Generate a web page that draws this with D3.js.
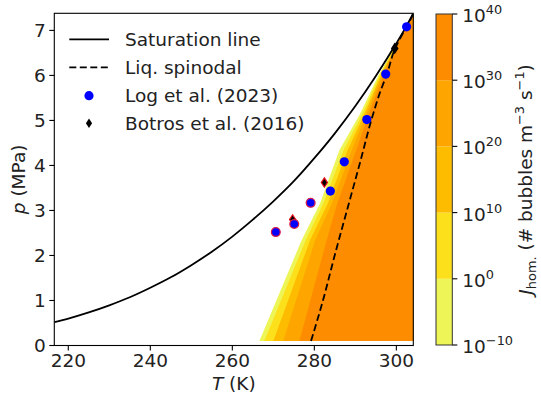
<!DOCTYPE html>
<html>
<head>
<meta charset="utf-8">
<script src="https://cdn.jsdelivr.net/npm/d3@7"></script>
<style>
  html, body { margin: 0; padding: 0; background: #fff; }
  svg { display: block; font-family: "DejaVu Sans", sans-serif; }
</style>
</head>
<body>
<svg id="chart" width="541" height="402"></svg>
<script>
// ---------------- data ----------------
const satT = [216.59, 220, 225, 230, 235, 240, 245, 250, 255, 260, 265, 270, 275, 280, 285, 290, 295, 300, 302, 304.13];
const satP = [0.518, 0.599, 0.736, 0.893, 1.072, 1.283, 1.515, 1.785, 2.083, 2.419, 2.795, 3.203, 3.650, 4.161, 4.713, 5.320, 5.986, 6.713, 7.022, 7.377];

const spinT = [279.2, 282.1, 285.1, 288.1, 291.1, 294.1, 296.0, 297.7, 299.7, 301.5, 303.0, 304.13];
const spinP = [0.1, 1.0, 2.05, 3.05, 4.05, 5.07, 5.62, 6.03, 6.60, 6.92, 7.16, 7.377];

const logT = [270.6, 275.1, 279.1, 283.9, 287.3, 292.8, 297.4, 302.5];
const logP = [2.52, 2.70, 3.17, 3.43, 4.08, 5.02, 6.03, 7.08];
const logHighlighted = [true, true, true, false, false, false, false, false];

const botT = [274.7, 282.45, 299.6];
const botP = [2.80, 3.62, 6.60];
const botHighlighted = [true, true, false];

// contour levels of log10 J and the boundary of each level (T at given pressures)
const levels = [-10, 0, 10, 20, 30, 40];
const boundP = [0.1, 2.34, 3.16, 4.34, 5.12, 6.0, 6.6, 7.377];
const boundT = [
  [266.6, 276.9, 281.4, 286.1, 291.0, 295.6, 299.35, 304.13],  // 1e-10
  [267.8, 277.9, 282.2, 287.1, 291.6, 295.9, 299.45, 304.13],  // 1e0
  [270.0, 278.95, 283.3, 288.1, 292.1, 296.2, 299.5, 304.13],  // 1e10
  [272.4, 280.2, 284.3, 289.1, 292.6, 296.5, 299.55, 304.13],  // 1e20
  [276.35, 283.0, 285.6, 290.2, 293.2, 296.9, 299.6, 304.13]   // 1e30
];
const bandColors = ["#edf557", "#fde01c", "#fdbc00", "#fea500", "#fe8c00"];

const xTicks = [220, 240, 260, 280, 300];
const yTicks = [0, 1, 2, 3, 4, 5, 6, 7];
const xDomain = [216.59, 304.13];
const yDomain = [0, 7.38];

// ---------------- layout ----------------
const svg = d3.select("#chart");
const L = 54.3, R = 413.3, TOP = 13.3, BOT = 345.5;
const x = d3.scaleLinear().domain(xDomain).range([L, R]);
const y = d3.scaleLinear().domain(yDomain).range([BOT, TOP]);
const FS = 18.5;

svg.append("defs").append("clipPath").attr("id", "clip")
  .append("rect").attr("x", L).attr("y", TOP).attr("width", R - L).attr("height", BOT - TOP);

const plot = svg.append("g").attr("clip-path", "url(#clip)");

// filled contour bands
const poly = d3.line().x(d => x(d[0])).y(d => y(d[1]));
boundT.forEach((Ts, i) => {
  const pts = Ts.map((t, k) => [t, boundP[k]]);
  pts.push([xDomain[1] + 1, boundP[boundP.length - 1]]);
  pts.push([xDomain[1] + 1, boundP[0]]);
  plot.append("path").attr("d", poly(pts) + "Z").attr("fill", bandColors[i]).attr("stroke", "none");
});

// saturation line
const curve = d3.line().x(d => x(d[0])).y(d => y(d[1])).curve(d3.curveMonotoneX);
plot.append("path")
  .attr("d", curve(satT.map((t, i) => [t, satP[i]])))
  .attr("fill", "none").attr("stroke", "#000").attr("stroke-width", 1.8);

// spinodal
plot.append("path")
  .attr("d", d3.line().x(d => x(d[0])).y(d => y(d[1])).curve(d3.curveMonotoneY)(spinT.map((t, i) => [t, spinP[i]])))
  .attr("fill", "none").attr("stroke", "#000").attr("stroke-width", 1.8)
  .attr("stroke-dasharray", "7,3.5");

// markers
const diamond = (cx, cy) => `M${cx},${cy - 4.7}L${cx + 3.1},${cy}L${cx},${cy + 4.7}L${cx - 3.1},${cy}Z`;
const mk = svg.append("g");
botT.forEach((t, i) => {
  mk.append("path").attr("d", diamond(x(t), y(botP[i])))
    .attr("fill", "#000")
    .attr("stroke", botHighlighted[i] ? "#e8101a" : "#000").attr("stroke-width", 1.2);
});
logT.forEach((t, i) => {
  mk.append("circle").attr("cx", x(t)).attr("cy", y(logP[i]))
    .attr("r", logHighlighted[i] ? 4.4 : 4.6)
    .attr("fill", "#0000ff")
    .attr("stroke", logHighlighted[i] ? "#d61a4a" : "none").attr("stroke-width", 1.3);
});

// axes frame
svg.append("rect").attr("x", L).attr("y", TOP).attr("width", R - L).attr("height", BOT - TOP)
  .attr("fill", "none").attr("stroke", "#000").attr("stroke-width", 1.1);

// x ticks
xTicks.forEach(t => {
  svg.append("line").attr("x1", x(t)).attr("x2", x(t)).attr("y1", BOT).attr("y2", BOT + 5)
    .attr("stroke", "#000").attr("stroke-width", 1.1);
  svg.append("text").attr("x", x(t)).attr("y", BOT + 21.8).attr("text-anchor", "middle")
    .attr("font-size", FS).attr("fill", "#222").text(t);
});
// y ticks
yTicks.forEach(t => {
  svg.append("line").attr("x1", L - 5).attr("x2", L).attr("y1", y(t)).attr("y2", y(t))
    .attr("stroke", "#000").attr("stroke-width", 1.1);
  svg.append("text").attr("x", L - 8.5).attr("y", y(t) + 6.7).attr("text-anchor", "end")
    .attr("font-size", FS).attr("fill", "#222").text(t);
});

// axis labels
const xl = svg.append("text").attr("x", (L + R) / 2).attr("y", 390).attr("text-anchor", "middle")
  .attr("font-size", FS).attr("fill", "#222");
xl.append("tspan").attr("font-style", "italic").text("T");
xl.append("tspan").text(" (K)");
const yl = svg.append("text").attr("transform", `translate(24.5,${(TOP + BOT) / 2}) rotate(-90)`)
  .attr("text-anchor", "middle").attr("font-size", FS).attr("fill", "#222");
yl.append("tspan").attr("font-style", "italic").text("p");
yl.append("tspan").text(" (MPa)");

// legend
const lg = svg.append("g");
const rows = [39.3, 67.3, 95.7, 123.3];
const names = ["Saturation line", "Liq. spinodal", "Log et al. (2023)", "Botros et al. (2016)"];
lg.append("line").attr("x1", 69.3).attr("x2", 109).attr("y1", rows[0]).attr("y2", rows[0])
  .attr("stroke", "#000").attr("stroke-width", 1.8);
lg.append("line").attr("x1", 69.3).attr("x2", 109).attr("y1", rows[1]).attr("y2", rows[1])
  .attr("stroke", "#000").attr("stroke-width", 1.8).attr("stroke-dasharray", "7,3.5");
lg.append("circle").attr("cx", 89).attr("cy", rows[2]).attr("r", 4.6).attr("fill", "#0000ff");
lg.append("path").attr("d", diamond(89, rows[3])).attr("fill", "#000");
names.forEach((n, i) => {
  lg.append("text").attr("x", 125).attr("y", rows[i] + 6.2).attr("font-size", FS).attr("fill", "#222").text(n);
});

// colorbar
const CL = 436, CR = 452.3;
const cy = d3.scaleLinear().domain([levels[0], levels[levels.length - 1]]).range([BOT - 0.5, TOP + 0.7]);
const cb = svg.append("g");
for (let i = 0; i < levels.length - 1; i++) {
  cb.append("rect").attr("x", CL).attr("y", cy(levels[i + 1])).attr("width", CR - CL)
    .attr("height", cy(levels[i]) - cy(levels[i + 1])).attr("fill", bandColors[i]);
}
cb.append("rect").attr("x", CL).attr("y", cy(levels[levels.length - 1])).attr("width", CR - CL)
  .attr("height", cy(levels[0]) - cy(levels[levels.length - 1]))
  .attr("fill", "none").attr("stroke", "#333").attr("stroke-width", 1);
levels.forEach(l => {
  cb.append("line").attr("x1", CR).attr("x2", CR + 5).attr("y1", cy(l)).attr("y2", cy(l))
    .attr("stroke", "#000").attr("stroke-width", 1.1);
  const t = cb.append("text").attr("x", CR + 10).attr("y", cy(l) + 8).attr("font-size", FS).attr("fill", "#222");
  t.append("tspan").text("10");
  t.append("tspan").attr("font-size", 12.9).attr("dy", -8).text(String(l).replace("-", "\u2212"));
});
const cl = svg.append("text").attr("transform", `translate(532,${(TOP + BOT) / 2}) rotate(-90)`)
  .attr("text-anchor", "middle").attr("font-size", FS).attr("fill", "#222");
cl.append("tspan").attr("font-style", "italic").text("J");
cl.append("tspan").attr("font-size", 12.9).attr("dy", 3.5).text("hom.");
cl.append("tspan").attr("dy", -3.5).text("  (# bubbles m");
cl.append("tspan").attr("font-size", 12.9).attr("dy", -8).text("\u22123");
cl.append("tspan").attr("dy", 8).text(" s");
cl.append("tspan").attr("font-size", 12.9).attr("dy", -8).text("\u22121");
cl.append("tspan").attr("dy", 8).text(")");
</script>
</body>
</html>
